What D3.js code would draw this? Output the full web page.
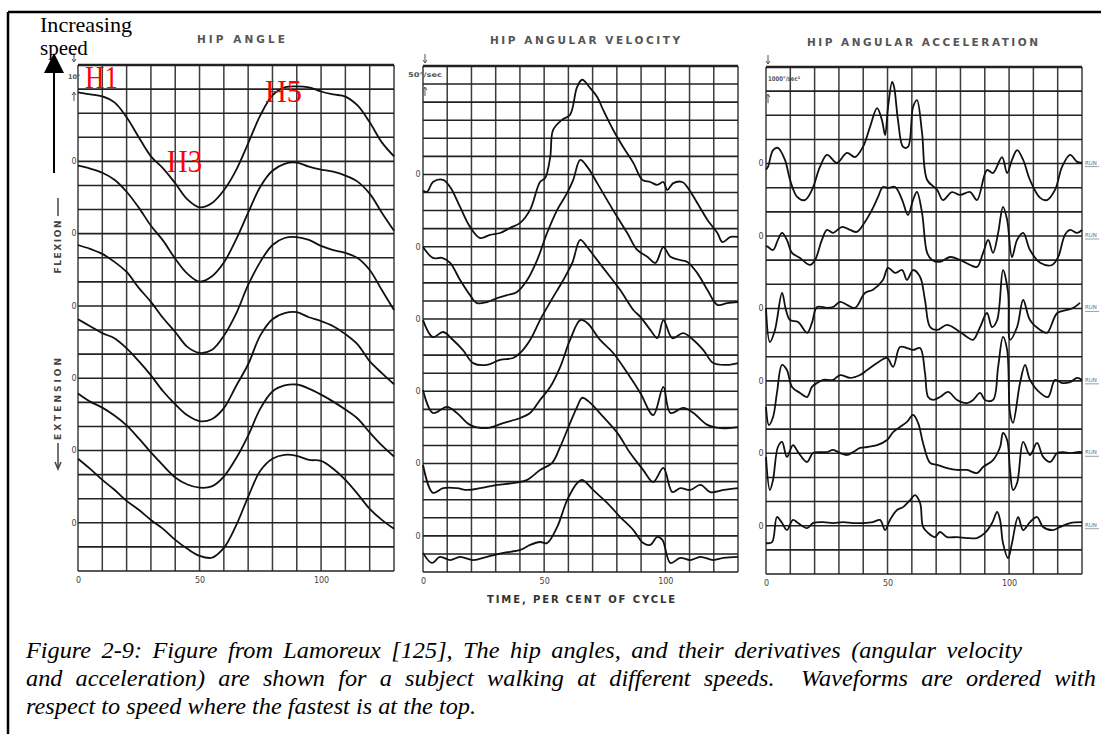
<!DOCTYPE html>
<html><head><meta charset="utf-8">
<script src="https://cdn.jsdelivr.net/npm/d3@7"></script>
<style>body{margin:0;background:#fff}svg{display:block}</style>
</head><body>
<svg id="c" width="1101" height="734"></svg>
<script>
// ---------------- DATA ----------------
const panelTitles = ["HIP ANGLE", "HIP ANGULAR VELOCITY", "HIP ANGULAR ACCELERATION"];
const scaleLabels = ["10°", "50°/sec", "1000°/sec²"];
const xTickValues = [0, 50, 100];
const xAxisTitle = "TIME, PER CENT OF CYCLE";
const speedLabels = ["H1", "H3", "H5"];

// Hip angle (degrees), one value per 5 % of cycle, fastest first
const cyclePct = [0,5,10,15,20,25,30,35,40,45,50,55,60,65,70,75,80,85,90,95,100,105,110,115,120,125,130];
const angle1 = [28.6,27.8,27.0,24.5,18.3,10.0,2.1,-2.9,-9.1,-15.8,-19.1,-17.4,-12.0,-3.7,7.5,19.1,27.4,30.7,31.1,30.7,29.0,27.8,26.9,23.2,16.2,7.9,2.1];
const angle2 = [28.2,27.0,25.3,22.4,17.4,10.8,3.3,-2.9,-10.4,-16.6,-19.9,-17.8,-12.0,-2.5,8.7,19.5,26.1,29.0,29.5,27.8,26.6,25.7,24.1,21.6,16.6,8.7,1.2];
const angle3 = [25.3,23.7,21.6,18.3,14.1,7.5,1.7,-5.0,-10.8,-17.0,-19.5,-18.3,-12.4,-3.3,8.7,18.3,25.3,28.2,28.6,27.4,24.9,23.2,22.0,19.9,14.9,6.6,-1.7];
const angle4 = [24.5,21.6,18.7,16.6,12.4,7.1,1.2,-5.4,-10.8,-15.4,-17.8,-17.0,-12.4,-3.3,5.8,17.8,24.5,27.0,27.4,25.3,23.7,21.6,18.3,14.1,7.1,2.1,-2.5];
const angle5 = [23.7,20.3,17.8,14.5,10.4,5.0,-0.8,-6.2,-11.2,-14.1,-15.4,-14.9,-10.8,-3.3,6.2,17.4,24.5,27.0,27.4,25.7,23.2,20.3,17.0,13.3,7.5,2.1,-2.5];
const angle6 = [26.6,22.4,17.8,13.7,9.1,5.4,1.2,-2.5,-7.1,-10.8,-13.7,-14.5,-10.4,-1.2,10.8,21.6,26.6,28.2,27.8,26.1,25.7,22.4,17.8,12.0,5.8,1.2,-2.5];

// Hip angular velocity (deg/sec): [percent of cycle, value]
const vel1 = [[0,-45],[1.7,-48],[4.1,-21],[8.3,-15],[11.2,-35],[15.3,-90],[19.4,-145],[23.6,-176],[27.7,-167],[31.8,-162],[36,-148],[40.1,-134],[44.2,-98],[48.3,-21],[50.4,-10],[52.5,48],[53.7,123],[57.4,151],[60.7,165],[63.6,242],[65.7,262],[69,239],[71.9,214],[74.4,178],[78.5,123],[82.6,76],[86.8,32],[90.5,-15],[93.8,-21],[96.7,-29],[99.2,-21],[100.8,-43],[103.3,-24],[107,-21],[109.1,-35],[113.2,-79],[117.4,-126],[121.5,-162],[123.6,-187],[126.9,-173],[130,-173]];
const vel2 = [[0,-1],[4.1,-31],[7.9,-31],[11.2,-45],[15.3,-92],[19.4,-134],[22.3,-156],[26.4,-153],[30.6,-142],[34.7,-134],[38.8,-125],[43,-92],[47.1,-37],[51.2,38],[55.4,102],[59.5,149],[62,185],[64.9,240],[67.8,221],[71.9,176],[76,129],[80.2,82],[84.3,38],[88.4,-9],[92.6,-28],[95.9,-45],[99.2,-1],[102.1,-28],[106.2,-37],[109.1,-42],[113.2,-73],[117.4,-120],[121.5,-161],[125.6,-156],[130,-153]];
const vel3 = [[0,-3],[4.1,-50],[8.3,-36],[12.4,-58],[16.5,-86],[20.7,-122],[26.4,-127],[31.8,-113],[37.2,-108],[40.1,-94],[44.2,-58],[48.3,-3],[52.5,47],[57.9,108],[61.6,155],[64.9,219],[67.8,199],[71.9,163],[77.3,116],[81.4,80],[86.8,25],[89.7,6],[93.8,-30],[96.7,-53],[99.2,-3],[102.9,-53],[107.4,-39],[111.6,-58],[115.7,-86],[119.8,-122],[125.6,-127],[130,-122]];
const vel4 = [[0,4],[4.1,-60],[9.9,-43],[14,-60],[19.4,-93],[26.4,-102],[33.1,-88],[40.1,-74],[44.2,-60],[48.3,-24],[52.5,12],[56.6,67],[60.7,142],[64.9,197],[67.8,189],[73.1,142],[78.5,106],[84.3,51],[89.7,-5],[95,-66],[99.2,12],[102.1,-60],[107.4,-46],[111.6,-60],[117.4,-93],[122.7,-102],[130,-99]];
const vel5 = [[0,-4],[4.1,-81],[8.3,-68],[14,-68],[18.2,-73],[23.6,-68],[30.6,-59],[37.2,-54],[43,-45],[48.3,-18],[53.3,2],[56.6,46],[60.7,112],[63.6,157],[65.7,182],[69,168],[74.4,129],[80.2,85],[85.5,29],[90.9,-18],[95,-51],[99.2,-12],[102.9,-79],[106.2,-68],[110.3,-73],[114.5,-59],[118.6,-79],[124,-73],[130,-68]];
const vel6 = [[0,-47],[3.7,-75],[7,-58],[11.2,-67],[15.3,-58],[20.7,-67],[26.4,-58],[33.1,-47],[40.1,-39],[44.2,-25],[48.3,-17],[51.2,-20],[55.4,25],[59.5,99],[63.6,146],[65.7,155],[70.2,127],[76,91],[81.4,52],[86.8,16],[90.9,-20],[93.8,-25],[96.7,-3],[98.8,-11],[102.1,-75],[106.2,-61],[110.3,-67],[114.5,-58],[119.8,-67],[124,-61],[130,-58]];

// Hip angular acceleration (deg/sec²): [percent of cycle, value]
const acc1 = [[0,-250],[0.8,-140],[2.9,560],[4.9,650],[7.8,150],[9.9,-680],[12.8,-1380],[16,-1510],[18.9,-1090],[22.2,-140],[25.1,360],[29.2,30],[33.3,440],[36.6,270],[39.9,690],[42.8,1520],[45.7,2300],[47.7,1800],[49,1180],[50.2,2340],[51.9,3380],[52.7,3170],[54.3,1800],[56.4,690],[58.4,690],[60.5,2340],[62.1,2630],[64.2,1270],[66.3,-680],[70.4,-1090],[72.8,-1510],[76.5,-1180],[79.8,-1300],[84,-1180],[86.8,-1510],[90.9,-270],[93.4,-390],[97.1,270],[99.2,-390],[101.2,150],[103.3,560],[105.8,150],[108.6,-680],[112.8,-1420],[115.6,-1510],[118.9,-1090],[121.8,-140],[125.1,360],[128,70],[130,30]];
const acc2 = [[0,-400],[0.8,-450],[2.9,-580],[4.9,-160],[6.6,130],[8.6,-160],[10.7,-700],[14,-910],[18.1,-1200],[20.2,-990],[23,-160],[25.1,250],[27.6,130],[31.3,380],[34.6,250],[37.4,170],[40.7,580],[43.6,1080],[46.1,1620],[48.1,2030],[50.2,1990],[53.1,2030],[56,1500],[58.4,870],[60.5,1500],[62.1,1830],[64.2,960],[66.3,-700],[68.3,-990],[71.6,-1070],[75.7,-870],[79.8,-990],[84,-1200],[86.8,-1280],[89.3,-700],[91.4,-160],[93.4,-700],[95.5,130],[97.5,1210],[99.2,670],[101.2,-870],[103.3,-160],[105.8,130],[108.6,-580],[112.8,-1110],[117.7,-1200],[120.2,-870],[123,50],[125.1,250],[128,130],[130,250]];
const acc3 = [[0,20],[1.6,-1390],[3.7,-890],[6.6,640],[8.2,-60],[9.9,-480],[13.2,-560],[16.9,-1010],[18.9,-600],[21,60],[25.1,20],[27.6,60],[30.5,270],[33.3,150],[36.6,20],[40.7,640],[44,770],[48.1,1180],[50.2,1680],[53.1,1470],[56,1590],[58,1180],[60.5,1590],[63.4,1300],[65.4,350],[67.5,-770],[70.4,-890],[74.5,-680],[78.6,-890],[82.7,-1180],[85.2,-1300],[88.1,-770],[90.9,-190],[93,-770],[95.1,-480],[97.5,1590],[99.6,640],[100.4,-1300],[103.3,-770],[105.8,350],[108.6,-480],[112.8,-890],[115.6,-1010],[119.8,-190],[123.9,-60],[126.3,20],[129.2,230]];
const acc4 = [[0,-1080],[1.2,-1830],[2.9,-1500],[4.5,-500],[6.6,660],[8.6,450],[10.7,-250],[14,-500],[16.9,-670],[18.9,-250],[21,-90],[23.5,40],[27.6,40],[30.5,240],[34.6,120],[38.7,240],[41.6,450],[45.7,740],[49.8,950],[52.3,580],[55.1,1400],[58,1360],[60.5,1280],[63.4,1360],[65.4,330],[66.7,-670],[68.7,-790],[71.6,-670],[74.9,-460],[78.6,-790],[82.7,-920],[85.2,-790],[88.1,-500],[90.1,-790],[93.4,-790],[95.5,580],[97.5,1820],[99.2,1280],[100.4,-1330],[101.6,-1740],[104.5,-90],[106.6,660],[108.6,40],[112.8,-500],[116,-670],[118.9,40],[121.8,-90],[125.1,-50],[128,120],[130,40]];
const acc5 = [[0,-150],[1.6,-1520],[2.9,-1100],[4.9,260],[6.6,470],[8.6,-150],[11.1,340],[13.2,50],[16.9,-360],[19.3,10],[22.2,50],[25.1,50],[27.6,140],[30.5,10],[33.3,-70],[35.8,50],[38.7,220],[41.6,260],[45.7,340],[49.8,550],[52.3,880],[55.1,1090],[58,1300],[60.5,1590],[62.6,1250],[64.6,430],[67.5,-400],[70.4,-480],[74.5,-610],[78.6,-690],[82.7,-690],[86.8,-820],[89.3,-570],[93.4,-280],[96.3,260],[97.5,840],[99.2,550],[100.4,-690],[101.6,-1520],[103.3,-1230],[105.8,470],[108.6,-70],[111.5,430],[114,-150],[116.9,-360],[119.8,10],[122.2,50],[125.1,10],[128,50],[130,50]];
const acc6 = [[0,-720],[2.5,-680],[4.5,360],[6.6,110],[8.6,-180],[11.1,240],[13.2,110],[16.9,-100],[19.3,110],[23.5,150],[27.6,110],[31.7,150],[35.8,110],[39.9,110],[44,150],[46.9,240],[49,-180],[51,240],[53.9,650],[56.4,770],[59.3,1060],[61.3,1270],[63.4,940],[64.6,-50],[66.7,-300],[69.5,-470],[71.6,-260],[74.5,-470],[78.6,-470],[82.7,-510],[86.8,-510],[90.1,-300],[93,110],[95.1,570],[96.3,240],[97.5,-720],[99.6,-1340],[101.2,-720],[103.7,360],[105.8,-180],[108.6,150],[111.5,360],[114,-50],[118.1,-180],[121,-50],[125.1,110],[130,150]];

const captionLines = [
  "Figure 2-9: Figure from Lamoreux [125], The hip angles, and their derivatives (angular velocity",
  "and acceleration) are shown for a subject walking at different speeds.  Waveforms are ordered with",
  "respect to speed where the fastest is at the top."
];

// ---------------- DRAWING ----------------
const svg = d3.select("#c");
svg.append("rect").attr("width",1101).attr("height",734).attr("fill","#fff");

svg.append("line").attr("x1",8).attr("x2",1101).attr("y1",12).attr("y2",12).attr("stroke","#000").attr("stroke-width",2.5);
svg.append("line").attr("x1",8).attr("x2",8).attr("y1",12).attr("y2",734).attr("stroke","#000").attr("stroke-width",2.5);

const angleData = [angle1,angle2,angle3,angle4,angle5,angle6].map(arr => arr.map((v,i)=>[cyclePct[i], v]));
const panels = [
  {title: panelTitles[0], x0:78,  x1:394,  top:65, bottom:571, nGrid:21, zeros:[17,14,11,8,5,2], unit:10,   series: angleData,
   titleX:197, titleW:88, titleY:43, zeroLabelX:74},
  {title: panelTitles[1], x0:423, x1:738,  top:66, bottom:572, nGrid:28, zeros:[22,18,14,10,6,2], unit:50,   series: [vel1,vel2,vel3,vel4,vel5,vel6],
   titleX:490, titleW:190, titleY:44, zeroLabelX:418},
  {title: panelTitles[2], x0:766, x1:1082, top:67, bottom:574, nGrid:21, zeros:[17,14,11,8,5,2], unit:1000, series: [acc1,acc2,acc3,acc4,acc5,acc6],
   titleX:807, titleW:231, titleY:46, zeroLabelX:761}
];

panels.forEach((p, pi) => {
  const x = d3.scaleLinear().domain([0,130]).range([p.x0, p.x1]);
  const y = d3.scaleLinear().domain([0,p.nGrid]).range([p.bottom, p.top]);
  const g = svg.append("g");

  g.selectAll(".vg").data(d3.range(0,131,10)).join("line")
    .attr("x1", d=>x(d)).attr("x2", d=>x(d)).attr("y1", p.top).attr("y2", p.bottom)
    .attr("stroke","#3c3c3c").attr("stroke-width",1.5);
  g.selectAll(".hg").data(d3.range(0,p.nGrid+1)).join("line")
    .attr("x1", p.x0).attr("x2", p.x1).attr("y1", d=>y(d)).attr("y2", d=>y(d))
    .attr("stroke","#222").attr("stroke-width", d => d===p.nGrid ? 2.4 : 1.6);

  g.selectAll(".zl").data(p.zeros).join("text")
    .attr("x", p.zeroLabelX).attr("y", d=>y(d)).attr("dy","0.35em")
    .attr("text-anchor","middle").attr("font-family","DejaVu Sans").attr("font-size",8)
    .attr("fill","#444").text("0");

  const ax = d3.axisBottom(x).tickValues(xTickValues).tickSize(0).tickPadding(6);
  const axg = g.append("g").attr("transform",`translate(0,${p.bottom})`).call(ax);
  axg.select(".domain").remove();
  axg.selectAll("text").attr("font-family","DejaVu Sans").attr("font-size",8).attr("fill","#444");

  g.append("text").attr("x", p.titleX).attr("y", p.titleY)
    .attr("font-family","DejaVu Sans").attr("font-weight","bold").attr("font-size",10.5)
    .attr("fill","#555").attr("textLength", p.titleW).attr("lengthAdjust","spacing")
    .text(p.title);

  const line = d3.line().x(d=>x(d[0])).curve(d3.curveCatmullRom.alpha(0.5));
  p.series.forEach((s, si) => {
    const z = p.zeros[si];
    line.y(d => y(z + d[1]/p.unit));
    g.append("path").attr("d", line(s)).attr("fill","none")
      .attr("stroke","#111").attr("stroke-width",1.8).attr("stroke-linejoin","round");
  });

  const sx = p.x0 + (pi===0 ? -4 : 2);
  const ah = (yy, dir) => {
    g.append("line").attr("x1", sx).attr("x2", sx).attr("y1", yy).attr("y2", yy + dir*9)
      .attr("stroke","#555").attr("stroke-width",1);
    g.append("path").attr("d", `M${sx-2},${yy+dir*6}L${sx},${yy+dir*9}L${sx+2},${yy+dir*6}`)
      .attr("fill","none").attr("stroke","#555").attr("stroke-width",1);
  };
  ah(p.top-12, 1);
  ah(y(p.nGrid-1)+12, -1);
  const lbl = g.append("text").attr("y", (y(p.nGrid)+y(p.nGrid-1))/2).attr("dy","0.35em")
    .attr("font-family","DejaVu Sans").attr("font-weight","bold").attr("font-size",6.5).attr("fill","#555")
    .text(scaleLabels[pi]);
  if (pi===0) lbl.attr("x", 68);
  if (pi===1) lbl.attr("x", 408).attr("textLength",34).attr("lengthAdjust","spacingAndGlyphs");
  if (pi===2) lbl.attr("x", 768).attr("textLength",32).attr("lengthAdjust","spacingAndGlyphs");

  if (pi===2) {
    p.zeros.forEach(zv => {
      g.append("text").attr("x", p.x1+3).attr("y", y(zv)+1).attr("font-family","DejaVu Sans")
        .attr("font-size",5.5).attr("fill","#777").text("RUN");
      g.append("line").attr("x1", p.x1+3).attr("x2", p.x1+17).attr("y1", y(zv)+3).attr("y2", y(zv)+3)
        .attr("stroke","#888").attr("stroke-width",0.8);
    });
  }
});

svg.append("text").attr("x",487).attr("y",603).attr("font-family","DejaVu Sans").attr("font-weight","bold")
  .attr("font-size",10).attr("fill","#333").attr("textLength",188).attr("lengthAdjust","spacing").text(xAxisTitle);

svg.append("text").attr("transform","translate(58,247) rotate(-90)").attr("text-anchor","middle").attr("dominant-baseline","central")
  .attr("font-family","DejaVu Sans").attr("font-weight","bold").attr("font-size",9).attr("fill","#444")
  .attr("textLength",53).attr("lengthAdjust","spacing").text("FLEXION");
svg.append("line").attr("x1",58).attr("x2",58).attr("y1",198).attr("y2",216).attr("stroke","#444").attr("stroke-width",1.5);
svg.append("text").attr("transform","translate(58,399) rotate(-90)").attr("text-anchor","middle").attr("dominant-baseline","central")
  .attr("font-family","DejaVu Sans").attr("font-weight","bold").attr("font-size",9).attr("fill","#444")
  .attr("textLength",82).attr("lengthAdjust","spacing").text("EXTENSION");
svg.append("line").attr("x1",58).attr("x2",58).attr("y1",443).attr("y2",468).attr("stroke","#444").attr("stroke-width",1.5);
svg.append("path").attr("d","M55,462L58,469L61,462").attr("fill","none").attr("stroke","#444").attr("stroke-width",1.5);

svg.append("text").attr("x",40).attr("y",32).attr("font-family","Liberation Serif").attr("font-size",21)
  .attr("textLength",92).attr("lengthAdjust","spacingAndGlyphs").text("Increasing");
svg.append("text").attr("x",40).attr("y",55).attr("font-family","Liberation Serif").attr("font-size",21)
  .text("speed");
svg.append("line").attr("x1",54).attr("x2",54).attr("y1",173).attr("y2",70).attr("stroke","#000").attr("stroke-width",2);
svg.append("path").attr("d","M44,73L64,73L54,53Z").attr("fill","#000");

const hPos = [[85,88,33],[167,172,35],[265,102,37]];
speedLabels.forEach((t,i)=>{
  svg.append("text").attr("x",hPos[i][0]).attr("y",hPos[i][1]).attr("font-family","Liberation Serif")
    .attr("font-size",31).attr("fill","#ff0000").attr("textLength",hPos[i][2]).attr("lengthAdjust","spacingAndGlyphs").text(t);
});

// caption: first two lines justified, last line natural
const capFont = {family:"Liberation Serif", size:24};
const capTargets = [996, 1070, 450];
const measure = (s) => {
  const t = svg.append("text").attr("font-family",capFont.family).attr("font-style","italic")
    .attr("font-size",capFont.size).attr("xml:space","preserve").text(s);
  const w = t.node().getComputedTextLength(); t.remove(); return w;
};
const spaceW = measure("a a") - measure("aa");
const lineWords = captionLines.map(l => l.split(" "));
const wordW = lineWords.map(ws => ws.map(w => w ? measure(w) : 0));
const natural3 = d3.sum(wordW[2]) + spaceW*(lineWords[2].length-1);
const capScale = capTargets[2] / natural3;
captionLines.forEach((l,i)=>{
  const ws = lineWords[i], ww = wordW[i];
  const gaps = ws.length-1;
  const gap = i < 2 ? Math.max(spaceW, (capTargets[i]/capScale - d3.sum(ww)) / gaps) : spaceW;
  const t = svg.append("text").attr("transform",`translate(26,${658+i*28}) scale(${capScale},1)`)
    .attr("font-family",capFont.family).attr("font-style","italic").attr("font-size",capFont.size).attr("fill","#000");
  let cx = 0;
  ws.forEach((w,k)=>{
    if (w) t.append("tspan").attr("x",cx).attr("y",0).text(w);
    cx += ww[k] + gap;
  });
});
</script>
</body></html>
